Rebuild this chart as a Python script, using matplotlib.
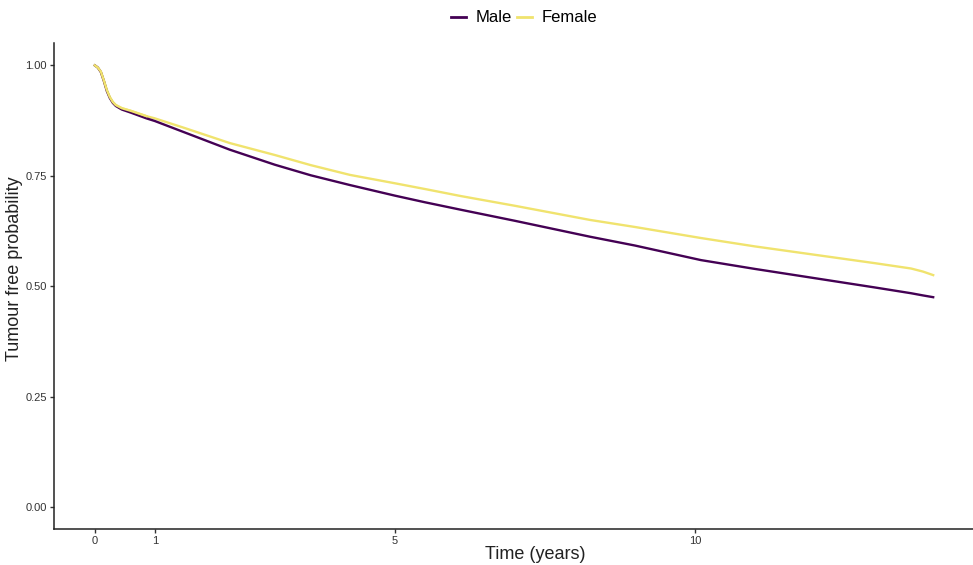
import matplotlib
matplotlib.use("Agg")
import matplotlib.pyplot as plt
from matplotlib.lines import Line2D

plt.rcParams["font.family"] = ["Liberation Sans", "DejaVu Sans"]

time_years = [0, 0.05, 0.1, 0.15, 0.2, 0.25, 0.3, 0.35, 0.45, 0.6, 0.86, 1.0, 1.5, 2.25,
              3.0, 3.6, 4.25, 5.0, 5.5, 6.1, 7.0, 8.25, 9.0, 10.1, 11.0, 12.0, 13.0,
              13.6, 13.8, 13.97]
male = [1.0, 0.995, 0.985, 0.965, 0.942, 0.926, 0.915, 0.908, 0.900, 0.893, 0.880, 0.874,
        0.848, 0.809, 0.775, 0.751, 0.729, 0.705, 0.690, 0.673, 0.648, 0.612, 0.592,
        0.559, 0.539, 0.518, 0.497, 0.484, 0.479, 0.475]
female = [1.0, 0.995, 0.986, 0.966, 0.944, 0.928, 0.917, 0.910, 0.903, 0.897, 0.885,
          0.880, 0.858, 0.824, 0.797, 0.774, 0.752, 0.733, 0.720, 0.704, 0.682, 0.650,
          0.634, 0.609, 0.590, 0.571, 0.552, 0.540, 0.533, 0.525]
series_names = ["Male", "Female"]
colors = ["#440154", "#F0E36E"]
x_ticks = [0, 1, 5, 10]
y_ticks = [0.0, 0.25, 0.5, 0.75, 1.0]

fig = plt.figure(figsize=(9.73, 5.65), dpi=100)
ax = fig.add_axes([54/973, 36/565, 962/973, 485.7/565])

lw = 1.7
ax.plot(time_years, female, color=colors[1], lw=lw, solid_joinstyle="round")
ax.plot(time_years, male, color=colors[0], lw=lw, solid_joinstyle="round")
ax.plot(time_years[:11], female[:11], color=colors[1], lw=lw, solid_joinstyle="round")

ax.set_xlim(-0.68, 15.35)
ax.set_ylim(-0.05, 1.05)
ax.set_xticks(x_ticks)
ax.set_xticklabels([str(t) for t in x_ticks])
ax.set_yticks(y_ticks)
ax.set_yticklabels([f"{v:.2f}" for v in y_ticks])
for s in ["top", "right"]:
    ax.spines[s].set_visible(False)
for s in ["left", "bottom"]:
    ax.spines[s].set_linewidth(1.1)
    ax.spines[s].set_color("#222222")
ax.tick_params(axis="both", length=3, width=1, color="#333333", labelsize=8,
               labelcolor="#333333", pad=2)

ax.set_xlabel("Time (years)", fontsize=13, labelpad=0, color="#222222")
ax.set_ylabel("Tumour free probability", fontsize=13, color="#222222")
ax.yaxis.set_label_coords(-0.032, 0.536)

handles = [Line2D([0], [0], color=c, lw=2) for c in colors]
fig.legend(handles, series_names, loc="center", bbox_to_anchor=(524/973, 1 - 18/565),
           ncol=2, frameon=False, fontsize=12, handlelength=0.9, handletextpad=0.6,
           columnspacing=0.3)

fig.savefig("out.png", dpi=100)
